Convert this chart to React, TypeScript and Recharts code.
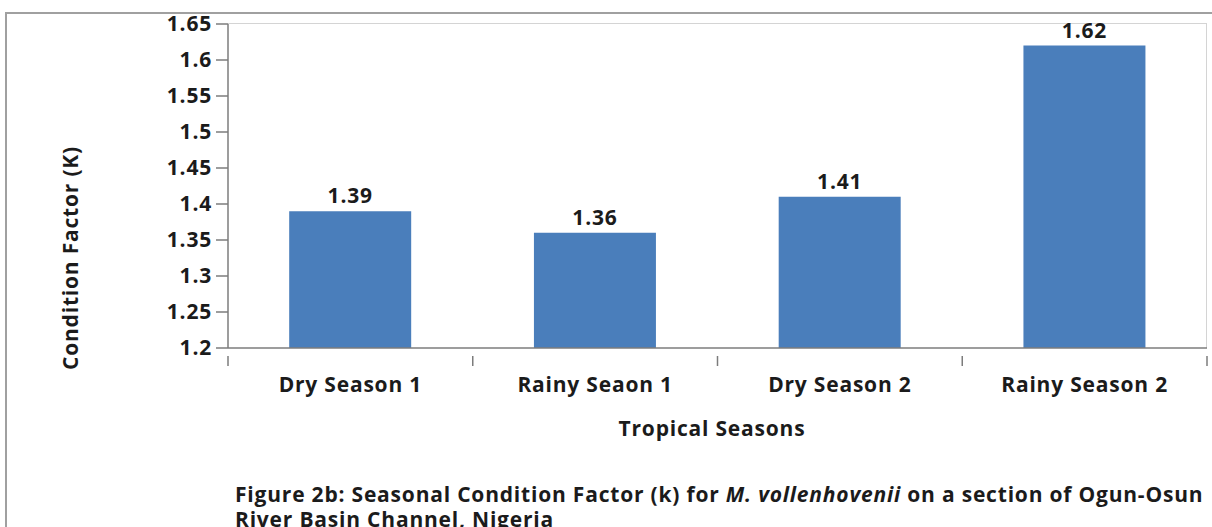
import React from "react";
import { BarChart, Bar, XAxis, YAxis, LabelList } from "recharts";

const seasons = ["Dry Season 1", "Rainy Seaon 1", "Dry Season 2", "Rainy Season 2"];
const conditionFactor = [1.39, 1.36, 1.41, 1.62];
const yTicks = [1.2, 1.25, 1.3, 1.35, 1.4, 1.45, 1.5, 1.55, 1.6, 1.65];

const data = seasons.map((season, i) => ({ season, k: conditionFactor[i] }));

const W = 1212;
const H = 527;
const MARGIN = { top: 24, right: 5, bottom: 0, left: 0 };
const X_AXIS_H = 179;
const Y_AXIS_W = 228;
const AXIS_COLOR = "#7c7c7c";
const TEXT_COLOR = "#1b1b1b";
const BAR_COLOR = "#4a7ebb";
const FONT = "'Open Sans', sans-serif";
const TXT = { fontFamily: FONT, fontWeight: 700, fontSize: 21, letterSpacing: "0.8px" };

const STEP = (W - MARGIN.right - Y_AXIS_W) / seasons.length;

// category label at centre, tick marks at the category boundaries
const CategoryTick = (props: any) => {
  const { x, y, payload, index } = props;
  const half = payload && payload.offset ? payload.offset : STEP / 2;
  const last = index === seasons.length - 1;
  return (
    <g>
      <line x1={x - half} y1={y} x2={x - half} y2={y + 10} stroke={AXIS_COLOR} strokeWidth={1.5} />
      {last && (
        <line x1={x + half} y1={y} x2={x + half} y2={y + 10} stroke={AXIS_COLOR} strokeWidth={1.5} />
      )}
      <text x={x} y={y + 36} textAnchor="middle" fill={TEXT_COLOR} style={TXT}>
        {payload.value}
      </text>
    </g>
  );
};

export default function App() {
  return (
    <div
      style={{
        position: "absolute",
        left: 0,
        top: 0,
        width: W,
        height: H,
        overflow: "hidden",
        background: "#fff",
        fontFamily: FONT,
      }}
    >
      {/* outer frame */}
      <div
        style={{
          position: "absolute",
          left: 5,
          top: 12,
          width: 1400,
          height: 700,
          border: "2px solid #a0a0a0",
        }}
      />
      {/* plot area border */}
      <div
        style={{
          position: "absolute",
          left: Y_AXIS_W,
          top: MARGIN.top - 1,
          width: W - MARGIN.right - Y_AXIS_W - 1,
          height: H - MARGIN.top - X_AXIS_H,
          borderTop: "1px solid #d4d4d4",
          borderRight: "1px solid #d4d4d4",
        }}
      />
      <div style={{ position: "absolute", left: 0, top: 0 }}>
        <BarChart width={W} height={H} data={data} margin={MARGIN} barCategoryGap="25%">
          <XAxis
            dataKey="season"
            axisLine={{ stroke: AXIS_COLOR, strokeWidth: 1.5 }}
            tickLine={false}
            tick={<CategoryTick />}
            interval={0}
            height={X_AXIS_H}
          />
          <YAxis
            width={Y_AXIS_W}
            domain={[1.2, 1.65]}
            ticks={yTicks}
            interval={0}
            allowDataOverflow
            axisLine={{ stroke: AXIS_COLOR, strokeWidth: 1.5 }}
            tickLine={{ stroke: AXIS_COLOR, strokeWidth: 1.5 }}
            tickSize={12}
            tickMargin={4}
            tick={{ fill: TEXT_COLOR, ...TXT }}
          />
          <Bar dataKey="k" fill={BAR_COLOR} isAnimationActive={false}>
            <LabelList dataKey="k" position="top" offset={8} fill={TEXT_COLOR} style={TXT} />
          </Bar>
        </BarChart>
      </div>
      <div
        style={{
          position: "absolute",
          left: 70,
          top: 258,
          transform: "translate(-50%, -50%) rotate(-90deg)",
          whiteSpace: "nowrap",
          ...TXT,
          color: TEXT_COLOR,
        }}
      >
        Condition Factor (K)
      </div>
      <div
        style={{
          position: "absolute",
          left: 712,
          top: 428,
          transform: "translate(-50%, -50%)",
          whiteSpace: "nowrap",
          ...TXT,
          color: TEXT_COLOR,
        }}
      >
        Tropical Seasons
      </div>
      <div
        style={{
          position: "absolute",
          left: 235,
          top: 482,
          width: 990,
          whiteSpace: "nowrap",
          ...TXT,
          lineHeight: "25px",
          color: TEXT_COLOR,
        }}
      >
        Figure 2b: Seasonal Condition Factor (k) for <i>M. vollenhovenii</i> on a section of Ogun-Osun
        <br />
        River Basin Channel, Nigeria
      </div>
    </div>
  );
}
